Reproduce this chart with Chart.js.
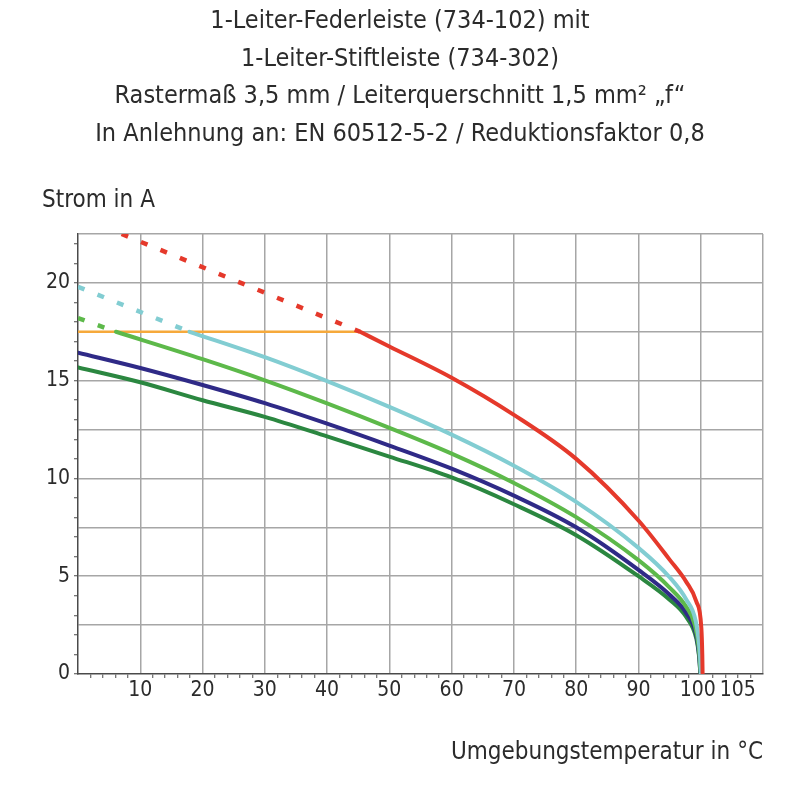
<!DOCTYPE html>
<html>
<head>
<meta charset="utf-8">
<script src="https://cdn.jsdelivr.net/npm/chart.js@4/dist/chart.umd.min.js"></script>
<style>
  body { margin: 0; background: #fff; }
  canvas { display: block; }
</style>
</head>
<body>
<canvas id="derating" width="800" height="800"></canvas>
<script>
// Derating curves, temperature (°C) vs current (A)
const titleLines = [
    '1-Leiter-Federleiste (734-102) mit',
    '1-Leiter-Stiftleiste (734-302)',
    'Rastermaß 3,5 mm / Leiterquerschnitt 1,5 mm² „f“',
    'In Anlehnung an: EN 60512-5-2 / Reduktionsfaktor 0,8'
];
const yAxisTitle = 'Strom in A';
const xAxisTitle = 'Umgebungstemperatur in °C';

const yTickLabels = [0, 5, 10, 15, 20];
const xTickLabels = [10, 20, 30, 40, 50, 60, 70, 80, 90, 100, 105];

const limitT = [0, 45.3];
const limitI = [17.5, 17.5];

const redDashT = [7, 45.3];
const redDashI = [22.5, 17.5];
const redT = [45.3, 50, 60, 70, 80, 90, 95, 97.7, 99.3, 100.1, 100.25, 100.3];
const redI = [17.5, 16.75, 15.15, 13.25, 11.0, 7.85, 5.85, 4.7, 3.7, 2.35, 1.0, 0];

const cyanDashT = [0, 17.9];
const cyanDashI = [19.8, 17.5];
const cyanT = [17.9, 30, 40, 50, 60, 70, 80, 90, 95, 97.7, 99.2, 99.8, 100.05];
const cyanI = [17.5, 16.2, 14.98, 13.66, 12.24, 10.65, 8.8, 6.45, 4.95, 3.8, 2.7, 1.3, 0];

const lgDashT = [0, 6.1];
const lgDashI = [18.2, 17.5];
const lgT = [6.1, 20, 30, 40, 50, 60, 70, 80, 90, 95, 97.7, 99.0, 99.7, 100];
const lgI = [17.5, 16.1, 15.02, 13.84, 12.59, 11.27, 9.77, 8.02, 5.82, 4.42, 3.42, 2.55, 1.3, 0];

const navyT = [0, 10, 20, 30, 40, 50, 60, 70, 80, 90, 95, 97.7, 99.3, 99.75, 99.95];
const navyI = [16.43, 15.65, 14.78, 13.85, 12.8, 11.68, 10.5, 9.12, 7.5, 5.32, 4.05, 3.1, 1.95, 0.9, 0];

const dgT = [0, 10, 20, 30, 40, 50, 60, 70, 80, 90, 95, 97.7, 99.3, 99.75, 99.95];
const dgI = [15.68, 14.92, 14.0, 13.15, 12.15, 11.12, 10.05, 8.68, 7.1, 5.0, 3.8, 2.9, 1.8, 0.85, 0];

const FONT = '"Liberation Sans Narrow", "DejaVu Sans Condensed", "Arial Narrow", sans-serif';
const TEXT = '#2b2b2b';
const GRID = '#a6a6a6';
const AXIS = '#4a4a4a';

const pts = (xs, ys) => xs.map((x, i) => ({ x, y: ys[i] }));

function curve(xs, ys, color) {
    return {
        data: pts(xs, ys),
        borderColor: color,
        borderWidth: 4,
        pointRadius: 0,
        cubicInterpolationMode: 'monotone',
        borderCapStyle: 'round'
    };
}
function dashed(xs, ys, color) {
    return {
        data: pts(xs, ys),
        borderColor: color,
        borderWidth: 4.5,
        pointRadius: 0,
        borderDash: [7, 14],
        tension: 0
    };
}

// minor ticks: y every 1 A plus half-steps for the 2.5 grid, x every 2 °C
const yTicks = [];
for (let v = 0; v <= 22; v++) yTicks.push(v);
[2.5, 7.5, 12.5, 17.5, 22.5].forEach(v => yTicks.push(v));
yTicks.sort((a, b) => a - b);
const xTicks = [];
for (let v = 0; v <= 110; v += 2) xTicks.push(v);
xTicks.push(105);
xTicks.sort((a, b) => a - b);

const axisTitlePlugin = {
    id: 'axisTitle',
    afterDraw(chart) {
        const { ctx, chartArea } = chart;
        ctx.save();
        ctx.font = `24px ${FONT}`;
        ctx.fillStyle = TEXT;
        ctx.textAlign = 'left';
        ctx.textBaseline = 'middle';
        ctx.fillText(yAxisTitle, chartArea.left - 36, chartArea.top - 33);
        ctx.restore();
    }
};

new Chart(document.getElementById('derating'), {
    type: 'line',
    data: {
        datasets: [
            curve(redT, redI, '#e5392b'),
            dashed(redDashT, redDashI, '#e5392b'),
            curve(cyanT, cyanI, '#82cdd2'),
            dashed(cyanDashT, cyanDashI, '#82cdd2'),
            curve(lgT, lgI, '#5db94a'),
            dashed(lgDashT, lgDashI, '#5db94a'),
            curve(navyT, navyI, '#2f2a87'),
            curve(dgT, dgI, '#2b8740'),
            { data: pts(limitT, limitI), borderColor: '#f6a93b', borderWidth: 2.5, pointRadius: 0 }
        ]
    },
    options: {
        responsive: false,
        animation: false,
        layout: { padding: 0 },
        plugins: {
            legend: { display: false },
            tooltip: { enabled: false },
            title: {
                display: true,
                text: titleLines,
                color: TEXT,
                font: { family: FONT, size: 25, weight: 'normal', lineHeight: 1.5 },
                padding: { top: 3, bottom: 81 }
            }
        },
        scales: {
            x: {
                type: 'linear',
                min: 0,
                max: 110,
                afterBuildTicks: s => { s.ticks = xTicks.map(v => ({ value: v })); },
                afterFit: s => { s.height = 126; },
                border: { display: true, color: AXIS, width: 1.5 },
                grid: {
                    color: c => (c.tick && c.tick.value % 10 === 0 && c.tick.value !== 0) ? GRID : 'rgba(0,0,0,0)',
                    lineWidth: 1.5,
                    drawTicks: true,
                    tickLength: 4,
                    tickColor: c => (c.tick && c.tick.value % 10 !== 0 && c.tick.value !== 105) ? AXIS : 'rgba(0,0,0,0)',
                    tickWidth: 1
                },
                ticks: {
                    autoSkip: false,
                    maxRotation: 0,
                    padding: 0,
                    color: TEXT,
                    font: { family: FONT, size: 21 },
                    callback: v => {
                        if (!xTickLabels.includes(v)) return '';
                        if (v === 100) return '100 ';
                        if (v === 105) return '  105';
                        return String(v);
                    }
                },
                title: {
                    display: true,
                    text: xAxisTitle,
                    align: 'end',
                    color: TEXT,
                    font: { family: FONT, size: 24 },
                    padding: { top: 0, bottom: 33 }
                }
            },
            y: {
                min: 0,
                max: 22.5,
                afterBuildTicks: s => { s.ticks = yTicks.map(v => ({ value: v })); },
                afterFit: s => { s.width = 78; },
                border: { display: true, color: AXIS, width: 1.5 },
                grid: {
                    color: c => (c.tick && c.tick.value % 2.5 === 0 && c.tick.value !== 0) ? GRID : 'rgba(0,0,0,0)',
                    lineWidth: 1.5,
                    drawTicks: true,
                    tickLength: 4,
                    tickColor: c => (c.tick && Number.isInteger(c.tick.value)) ? AXIS : 'rgba(0,0,0,0)',
                    tickWidth: 1
                },
                ticks: {
                    autoSkip: false,
                    padding: 4,
                    color: TEXT,
                    font: { family: FONT, size: 21 },
                    callback: v => yTickLabels.includes(v) ? String(v) : ''
                }
            },
            // empty right-hand scale keeps the title centred on the page
            yRight: {
                position: 'right',
                display: true,
                afterFit: s => { s.width = 37; },
                grid: { display: false },
                border: { display: false },
                ticks: { display: false }
            }
        }
    },
    plugins: [axisTitlePlugin]
});
</script>
</body>
</html>
